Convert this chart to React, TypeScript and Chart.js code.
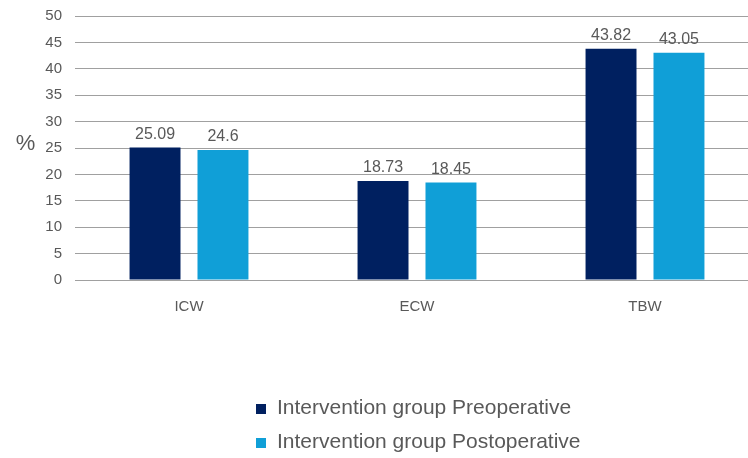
import React, { useEffect, useRef } from "react";
import { Chart, registerables } from "chart.js";

Chart.register(...registerables);

const categories = ["ICW", "ECW", "TBW"];
const preoperative = [25.09, 18.73, 43.82];
const postoperative = [24.6, 18.45, 43.05];
const seriesNames = ["Intervention group Preoperative", "Intervention group Postoperative"];
const seriesColors = ["#002060", "#109FD7"];
const yMin = 0;
const yMax = 50;
const yStep = 5;
const yTitle = "%";

const FONT = "'Liberation Sans', Arial, sans-serif";
const TEXT = "#595959";

const extrasPlugin = {
  id: "extras",
  afterDatasetsDraw(chart: any) {
    const ctx = chart.ctx;
    ctx.save();
    ctx.font = `16px ${FONT}`;
    ctx.fillStyle = TEXT;
    ctx.textAlign = "center";
    ctx.textBaseline = "alphabetic";
    chart.data.datasets.forEach((ds: any, i: number) => {
      const meta = chart.getDatasetMeta(i);
      meta.data.forEach((bar: any, j: number) => {
        ctx.fillText(String(ds.data[j]), bar.x, bar.y - 9);
      });
    });
    // y title, horizontal
    ctx.font = `22px ${FONT}`;
    ctx.textAlign = "center";
    ctx.fillText(yTitle, 25.5, 150);
    // legend
    ctx.font = `21px ${FONT}`;
    ctx.textAlign = "left";
    chart.data.datasets.forEach((ds: any, i: number) => {
      const base = 414 + i * 34;
      ctx.fillStyle = ds.backgroundColor;
      ctx.fillRect(256, base - 10, 10, 10);
      ctx.fillStyle = TEXT;
      ctx.fillText(ds.label, 277, base);
    });
    ctx.restore();
  },
};

export default function App() {
  const ref = useRef<HTMLCanvasElement>(null);
  useEffect(() => {
    const chart = new Chart(ref.current!, {
      type: "bar",
      data: {
        labels: categories,
        datasets: [
          { label: seriesNames[0], data: preoperative, backgroundColor: seriesColors[0] },
          { label: seriesNames[1], data: postoperative, backgroundColor: seriesColors[1] },
        ],
      },
      options: {
        animation: false,
        responsive: false,
        layout: { padding: { left: 0, right: 1, top: 16, bottom: 0 } },
        plugins: { legend: { display: false }, tooltip: { enabled: false } },
        datasets: { bar: { categoryPercentage: 0.596, barPercentage: 0.75 } },
        scales: {
          x: {
            grid: { display: false },
            border: { display: false },
            ticks: { color: TEXT, font: { family: FONT, size: 15 }, padding: 10 },
            afterFit: (s: any) => { s.height = 178; s.paddingLeft = 0; s.paddingRight = 0; },
          },
          y: {
            min: yMin,
            max: yMax,
            grid: { color: "#a0a0a0", drawTicks: false, lineWidth: 1 },
            border: { display: false },
            ticks: { stepSize: yStep, color: TEXT, font: { family: FONT, size: 15 }, padding: 13 },
            afterFit: (s: any) => { s.width = 75; s.paddingTop = 0; s.paddingBottom = 0; },
          },
        },
      },
      plugins: [extrasPlugin],
    });
    return () => chart.destroy();
  }, []);
  return (
    <div style={{ position: "fixed", left: 0, top: 0, width: 748, height: 458, overflow: "hidden", background: "#fff" }}>
      <canvas ref={ref} width={760} height={458} style={{ width: 760, height: 458 }} />
    </div>
  );
}
